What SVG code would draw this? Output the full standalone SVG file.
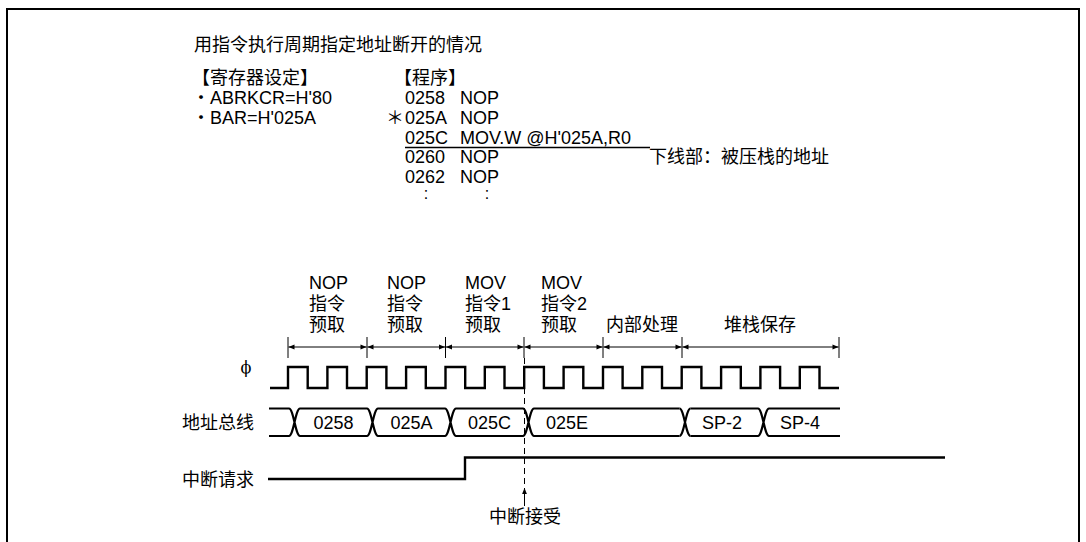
<svg xmlns="http://www.w3.org/2000/svg" width="1086" height="542" viewBox="0 0 1086 542">
<style>
text{font-family:"Liberation Sans","Noto Sans CJK SC",sans-serif;font-size:18px;fill:#000}
.m{text-anchor:middle}
.thick{fill:none;stroke:#000;stroke-width:2.4;stroke-linejoin:miter}
.bus{fill:none;stroke:#000;stroke-width:2.2}
.dim{fill:none;stroke:#000;stroke-width:1}
</style>
<defs>
<marker id="ah" viewBox="0 0 10 10" refX="10" refY="5" markerWidth="8" markerHeight="6" markerUnits="userSpaceOnUse" orient="auto-start-reverse">
<path d="M0,1 L10,5 L0,9 z" fill="#000"/>
</marker>
</defs>
<rect width="1086" height="542" fill="#fff"/>
<path d="M7,545 V9 H1079 V545" fill="none" stroke="#000" stroke-width="2"/>

<g id="header">
<text x="194" y="51">用指令执行周期指定地址断开的情况</text>
</g>
<g id="registers">
<text x="192" y="84">【寄存器设定】</text>
<text x="192" y="104">・ABRKCR=H'80</text>
<text x="192" y="124">・BAR=H'025A</text>
</g>
<g id="program">
<text x="394" y="84">【程序】</text>
<text x="405" y="104">0258</text><text x="460" y="104">NOP</text>
<text x="386" y="124">＊</text><text x="405" y="124">025A</text><text x="460" y="124">NOP</text>
<text x="405" y="143.5">025C</text><text x="460" y="143.5">MOV.W @H'025A,R0</text>
<line x1="405" y1="147.5" x2="650" y2="147.5" stroke="#000" stroke-width="1.5"/>
<text x="405" y="163">0260</text><text x="460" y="163">NOP</text>
<text x="405" y="182.5">0262</text><text x="460" y="182.5">NOP</text>
<text x="426" y="199" class="m" style="font-size:16px">:</text>
<text x="487" y="199" class="m" style="font-size:16px">:</text>
<text x="649" y="163">下线部：被压栈的地址</text>
</g>

<g id="phase-labels">
<text x="309" y="289">NOP</text><text x="309" y="310">指令</text><text x="309" y="331">预取</text>
<text x="387" y="289">NOP</text><text x="387" y="310">指令</text><text x="387" y="331">预取</text>
<text x="465" y="289">MOV</text><text x="465" y="310">指令1</text><text x="465" y="331">预取</text>
<text x="541" y="289">MOV</text><text x="541" y="310">指令2</text><text x="541" y="331">预取</text>
<text x="642" y="331" class="m">内部处理</text>
<text x="760" y="331" class="m">堆栈保存</text>
</g>

<g id="dimension">
<g class="dim">
<line x1="288" y1="337" x2="288" y2="358"/>
<line x1="367" y1="337" x2="367" y2="358"/>
<line x1="445.5" y1="337" x2="445.5" y2="358"/>
<line x1="524" y1="337" x2="524" y2="358"/>
<line x1="603" y1="337" x2="603" y2="358"/>
<line x1="682" y1="337" x2="682" y2="358"/>
<line x1="839" y1="337" x2="839" y2="358"/>
<line x1="288.5" y1="347" x2="366.5" y2="347" marker-start="url(#ah)" marker-end="url(#ah)"/>
<line x1="367.5" y1="347" x2="445" y2="347" marker-start="url(#ah)" marker-end="url(#ah)"/>
<line x1="446" y1="347" x2="523.5" y2="347" marker-start="url(#ah)" marker-end="url(#ah)"/>
<line x1="524.5" y1="347" x2="602.5" y2="347" marker-start="url(#ah)" marker-end="url(#ah)"/>
<line x1="603.5" y1="347" x2="681.5" y2="347" marker-start="url(#ah)" marker-end="url(#ah)"/>
<line x1="682.5" y1="347" x2="838.5" y2="347" marker-start="url(#ah)" marker-end="url(#ah)"/>
</g>
</g>

<g id="clock">
<text x="246" y="373" class="m" style="font-family:'DejaVu Serif',serif;font-size:16px">ϕ</text>
<path class="thick" d="M270,388 H288 V367 H307.7 V388 H327.4 V367 H347 V388 H366.7 V367 H386.4 V388 H406.1 V367 H425.8 V388 H445.5 V367 H465.2 V388 H484.8 V367 H504.5 V388 H524.2 V367 H543.9 V388 H563.6 V367 H583.3 V388 H603 V367 H622.6 V388 H642.3 V367 H662 V388 H681.7 V367 H701.4 V388 H721.1 V367 H740.8 V388 H760.4 V367 H780.1 V388 H799.8 V367 H819.5 V388 H839"/>
</g>

<g id="address-bus">
<text x="182" y="429">地址总线</text>
<g class="bus">
<path d="M269,408.5 H289 M300,408.5 H367 M378,408.5 H445 M456,408.5 H523 M534,408.5 H679.5 M690.5,408.5 H758 M769,408.5 H840"/>
<path d="M269,436 H289 M300,436 H367 M378,436 H445 M456,436 H523 M534,436 H679.5 M690.5,436 H758 M769,436 H840"/>
<path d="M289,408.5 C293.5,408.5 295.5,436 300,436 M289,436 C293.5,436 295.5,408.5 300,408.5"/>
<path d="M367,408.5 C371.5,408.5 373.5,436 378,436 M367,436 C371.5,436 373.5,408.5 378,408.5"/>
<path d="M445,408.5 C449.5,408.5 451.5,436 456,436 M445,436 C449.5,436 451.5,408.5 456,408.5"/>
<path d="M523,408.5 C527.5,408.5 529.5,436 534,436 M523,436 C527.5,436 529.5,408.5 534,408.5"/>
<path d="M679.5,408.5 C684,408.5 686,436 690.5,436 M679.5,436 C684,436 686,408.5 690.5,408.5"/>
<path d="M758,408.5 C762.5,408.5 764.5,436 769,436 M758,436 C762.5,436 764.5,408.5 769,408.5"/>
</g>
<text x="333.5" y="428.5" class="m">0258</text>
<text x="411.5" y="428.5" class="m">025A</text>
<text x="489.5" y="428.5" class="m">025C</text>
<text x="546" y="428.5">025E</text>
<text x="722" y="428.5" class="m">SP-2</text>
<text x="800" y="428.5" class="m">SP-4</text>
</g>

<g id="interrupt-request">
<text x="182" y="486">中断请求</text>
<path class="thick" d="M268,479 H465 V457.5 H945"/>
</g>

<g id="connectors">
<line x1="524.5" y1="358" x2="524.5" y2="486" stroke="#000" stroke-width="1" stroke-dasharray="6,4"/>
<line x1="524.5" y1="506" x2="524.5" y2="488" stroke="#000" stroke-width="1" marker-end="url(#ah)"/>
</g>
<g id="interrupt-accept">
<text x="525" y="523" class="m">中断接受</text>
</g>
</svg>
